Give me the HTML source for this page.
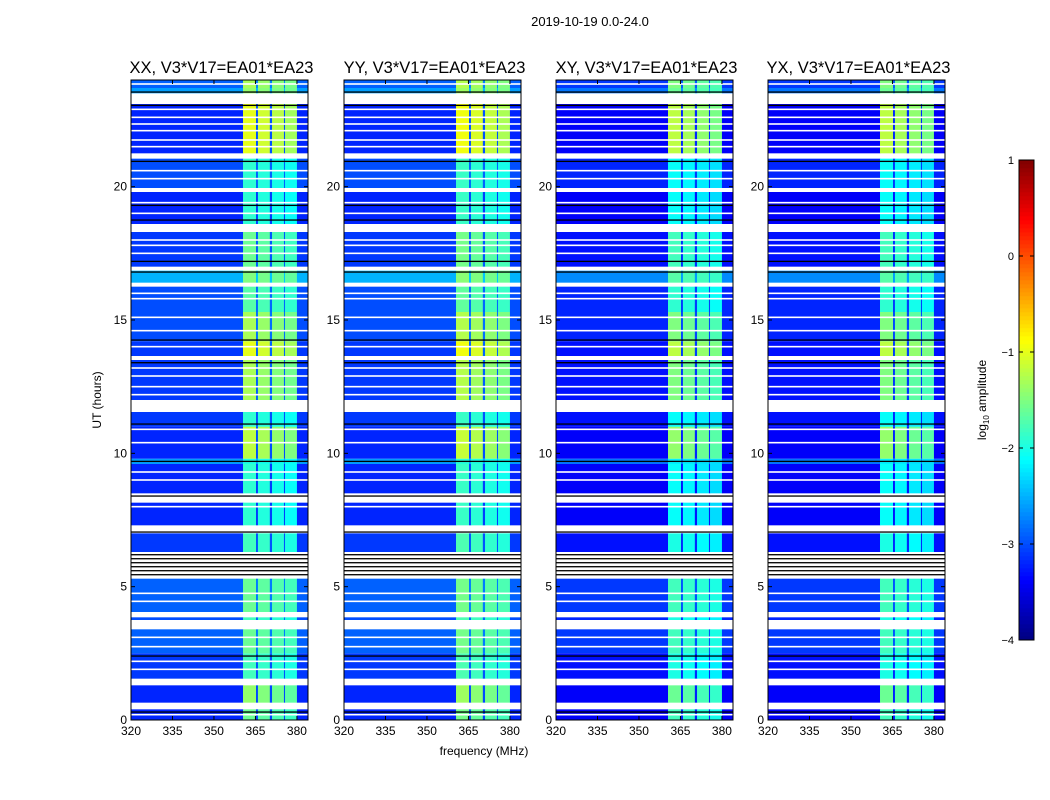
<!DOCTYPE html>
<html><head><meta charset="utf-8"><style>
body{margin:0;background:#fff;}
svg{display:block;font-family:"Liberation Sans",sans-serif;}
</style></head><body>
<svg id="fig" width="1050" height="800">
<text x="590" y="26" font-size="13" text-anchor="middle">2019-10-19 0.0-24.0</text>
<text x="484" y="755" font-size="12" text-anchor="middle">frequency (MHz)</text>
<text x="0" y="0" font-size="12" text-anchor="middle" transform="translate(101,400) rotate(-90)">UT (hours)</text>
<g id="panels"></g>
<g id="cbar"></g>
</svg>
<script>
const panelTitles = ["XX, V3*V17=EA01*EA23","YY, V3*V17=EA01*EA23","XY, V3*V17=EA01*EA23","YX, V3*V17=EA01*EA23"];
const freqEdges = [320,360.5,365.2,365.9,370.2,371,375.3,375.7,380,384];
const chanKind = [0,1,2,1,2,1,2,1,0];
const chanBandScale = [0,1.0,0.1,0.95,0.1,0.9,0.1,0.85,0];
const rowStart = [0,0.65,1.55,2.5,3.75,4.05,6.3,7.3,8.5,9.6,9.8,11.0,12.0,13.65,14.2,15.3,16.4,17.0,18.6,19.95,21.25,23.5,23.7];
const rowEnd   = [0.4,1.3,2.5,3.4,3.85,5.3,7.0,8.15,9.6,9.8,11.0,11.55,13.5,14.2,15.3,16.25,16.85,18.3,19.8,21.05,23.1,23.7,24];
const rowBg    = [-3.2,-3.2,-3.1,-2.9,-3.0,-2.9,-3.1,-3.2,-3.2,-2.6,-3.2,-3.1,-3.1,-3.1,-3.0,-3.0,-2.5,-3.1,-3.2,-3.0,-3.2,-2.6,-2.9];
const rowBand  = [-1.6,-1.4,-1.8,-1.6,-1.8,-1.6,-1.8,-1.9,-1.9,-2.0,-1.2,-1.9,-1.3,-1.0,-1.3,-1.7,-1.5,-1.6,-1.9,-1.9,-1.0,-1.4,-1.3];
const panelBgShift = [0,0,-0.2,-0.2];
const panelBandShift = [0,0.05,-0.2,-0.2];
const whiteLines = [0.2,1.9,2.2,2.75,3.1,4.45,4.75,8.0,9.0,9.3,10.4,10.9,12.2,12.5,12.9,13.2,14.0,14.6,15.1,15.8,16.0,17.5,17.8,18.0,19.0,19.4,20.3,20.6,21.5,21.75,22.1,22.35,22.6,22.9,23.85];
const blackLines = [0.3,2.4,5.45,5.6,5.75,5.9,6.05,6.2,7.05,8.4,9.7,11.1,13.4,14.25,16.8,17.2,18.75,19.3,20.95,23.05,23.55];
const xTicks = [320,335,350,365,380];
const yTicks = [0,5,10,15,20];
const cbTicks = [1,0,-1,-2,-3,-4];
const cbLabels = ["1","0","\u22121","\u22122","\u22123","\u22124"];

const NS="http://www.w3.org/2000/svg";
function mk(tag,attrs,parent){const e=document.createElementNS(NS,tag);for(const k in attrs)e.setAttribute(k,attrs[k]);parent.appendChild(e);return e;}
function jet(v){
  let t=(v+4)/5; t=Math.max(0,Math.min(1,t));
  const r=Math.max(0,Math.min(1,1.5-Math.abs(4*t-3)));
  const g=Math.max(0,Math.min(1,1.5-Math.abs(4*t-2)));
  const b=Math.max(0,Math.min(1,1.5-Math.abs(4*t-1)));
  return `rgb(${Math.round(r*255)},${Math.round(g*255)},${Math.round(b*255)})`;
}
const lefts=[131,344,556,768], PW=177, pTop=80, pBot=720;
const panelsG=document.getElementById('panels');
for(let p=0;p<4;p++){
  const L=lefts[p];
  const xs=f=>L+(f-320)/(384-320)*PW;
  const ys=h=>pBot-(h/24)*(pBot-pTop);
  const g=mk('g',{},panelsG);
  
  
  const bgr=mk('rect',{x:L,y:pTop,width:PW,height:pBot-pTop,fill:'#fff'},g);
  
  
  for(let r=0;r<rowStart.length;r++){
    for(let c=0;c<chanKind.length;c++){
      const bg=rowBg[r]+panelBgShift[p];
      let v=bg;
      if(chanKind[c]>0){const band=rowBand[r]+panelBandShift[p];v=bg+(band-bg)*chanBandScale[c];}
      const rc=mk('rect',{x:xs(freqEdges[c]),y:ys(rowEnd[r]),width:xs(freqEdges[c+1])-xs(freqEdges[c])+0.3,height:ys(rowStart[r])-ys(rowEnd[r]),fill:jet(v)},g);
      
      
    }
  }
  whiteLines.forEach(h=>{const l=mk('rect',{x:L,y:ys(h)-0.8,width:PW,height:1.6,fill:'#fff'},g);
    
    });
  blackLines.forEach(h=>{const l=mk('rect',{x:L,y:ys(h)-0.6,width:PW,height:1.3,fill:'#000'},g);
    
    });
  const fr=mk('rect',{x:L,y:pTop,width:PW,height:pBot-pTop,fill:'none',stroke:'#000','stroke-width':1},g);
  
  
  xTicks.forEach(t=>{const x=xs(t);
    mk('line',{x1:x,y1:pBot,x2:x,y2:pBot-4,stroke:'#000'},g);mk('line',{x1:x,y1:pTop,x2:x,y2:pTop+4,stroke:'#000'},g);
    const tx=mk('text',{x:x,y:pBot+15,'font-size':12,'text-anchor':'middle'},g);tx.textContent=t;
    
    });
  yTicks.forEach(t=>{const y=ys(t);
    mk('line',{x1:L,y1:y,x2:L+4,y2:y,stroke:'#000'},g);mk('line',{x1:L+PW,y1:y,x2:L+PW-4,y2:y,stroke:'#000'},g);
    const tx=mk('text',{x:L-4,y:y+4,'font-size':12,'text-anchor':'end'},g);tx.textContent=t;
    
    });
  const ti=mk('text',{x:L+PW/2+2,y:73,'font-size':16.5,'text-anchor':'middle'},g);ti.textContent=panelTitles[p];
  
  
}
const cb=document.getElementById('cbar');


const cT=160,cB=640,cL=1019,cW=15;
const cy=v=>cB-(v+4)/5*(cB-cT);
for(let i=0;i<120;i++){const v=-4+5*(i+0.5)/120;
  const r=mk('rect',{x:cL,y:cy(v)-(cB-cT)/240-0.3,width:cW,height:(cB-cT)/120+0.6,fill:jet(v)},cb);
  
  }
mk('rect',{x:cL,y:cT,width:cW,height:cB-cT,fill:'none',stroke:'#000'},cb);
cbTicks.forEach((t,i)=>{const y=cy(t);
  mk('line',{x1:cL,y1:y,x2:cL+4,y2:y,stroke:'#000'},cb);mk('line',{x1:cL+cW,y1:y,x2:cL+cW-4,y2:y,stroke:'#000'},cb);
  const tx=mk('text',{x:cL-5,y:y+4,'font-size':11,'text-anchor':'end'},cb);tx.textContent=cbLabels[i];
  
  });
const lab=mk('text',{x:0,y:0,'font-size':12,'text-anchor':'middle',transform:'translate(986,400) rotate(-90)'},cb);
lab.innerHTML='log<tspan font-size="8" dy="3">10</tspan><tspan dy="-3"> amplitude</tspan>';


</script>
</body></html>
